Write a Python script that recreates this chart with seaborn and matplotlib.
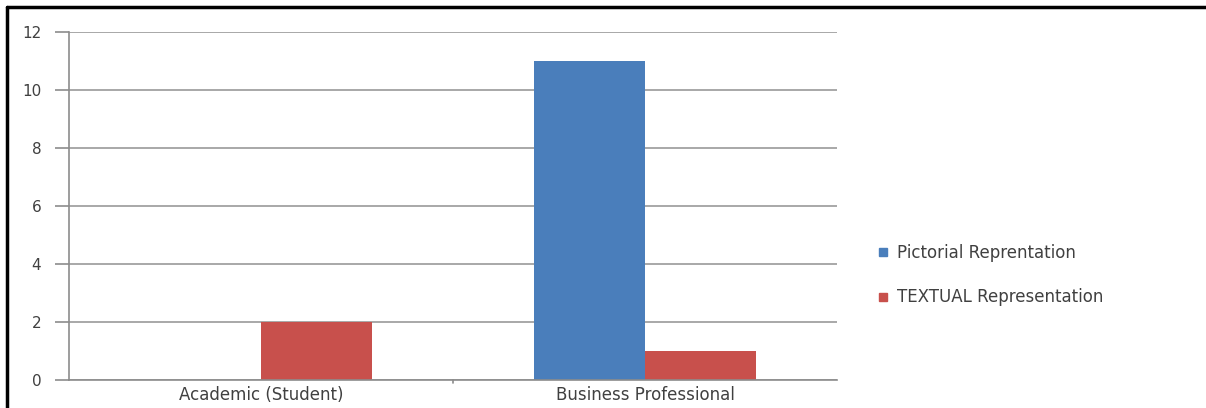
import matplotlib
matplotlib.use("Agg")
import matplotlib.pyplot as plt
import seaborn as sns
import pandas as pd
from matplotlib.lines import Line2D

categories = ["Academic (Student)", "Business Professional"]
series_names = ["Pictorial Reprentation", "TEXTUAL Representation"]
pictorial = [0, 11]
textual = [2, 1]
y_ticks = [0, 2, 4, 6, 8, 10, 12]

df = pd.DataFrame({
    "category": categories * 2,
    "series": [series_names[0]] * 2 + [series_names[1]] * 2,
    "value": pictorial + textual,
})

sns.set_theme(style="white")
plt.rcParams["font.family"] = ["DejaVu Sans"]

W, H = 1206, 408
fig = plt.figure(figsize=(W / 100, H / 100), dpi=100)
ax = fig.add_axes([69 / W, 28 / H, (837 - 69) / W, (380 - 32) / H])

palette = {series_names[0]: "#4A7EBB", series_names[1]: "#C8504C"}
sns.barplot(data=df, x="category", y="value", hue="series", palette=palette,
            width=0.578, saturation=1, ax=ax, legend=False, linewidth=0)

ax.set_ylim(0, 12)
ax.set_xlim(-0.5, 1.5)
ax.set_yticks(y_ticks)
ax.set_yticklabels([str(t) for t in y_ticks], fontsize=11, color="#404040")
ax.set_xticks([0, 1])
ax.set_xticklabels(categories, fontsize=12, color="#404040")
ax.set_xlabel("")
ax.set_ylabel("")
ax.yaxis.grid(True, color="#999999", linewidth=1.2)
ax.set_axisbelow(True)
for s in ["top", "right"]:
    ax.spines[s].set_visible(False)
for s in ["left", "bottom"]:
    ax.spines[s].set_color("#8c8c8c")
    ax.spines[s].set_linewidth(1.2)
ax.tick_params(axis="y", length=10, width=1.2, color="#8c8c8c", pad=10, left=True)
ax.tick_params(axis="x", length=0, pad=4)
# category separator tick
ax.plot([0.5, 0.5], [0, -0.12], color="#8c8c8c", lw=1.2, clip_on=False)

handles = [Line2D([0], [0], marker="s", color="none", markerfacecolor=palette[n],
                  markeredgecolor=palette[n], markersize=6) for n in series_names]
fig.legend(handles, series_names, loc="center left",
           bbox_to_anchor=(860 / W, 1 - 275 / H), frameon=False,
           fontsize=12, labelcolor="#404040", handletextpad=0.3,
           labelspacing=1.6, handlelength=1.0)

# outer border (left and top)
fig.add_artist(Line2D([6.5 / W, 6.5 / W], [0, 1 - 6.5 / H], color="black", lw=2.5,
                      transform=fig.transFigure))
fig.add_artist(Line2D([6.5 / W, 1], [1 - 6.5 / H, 1 - 6.5 / H], color="black", lw=2.5,
                      transform=fig.transFigure))

fig.savefig("out.png", dpi=100, facecolor="white")
